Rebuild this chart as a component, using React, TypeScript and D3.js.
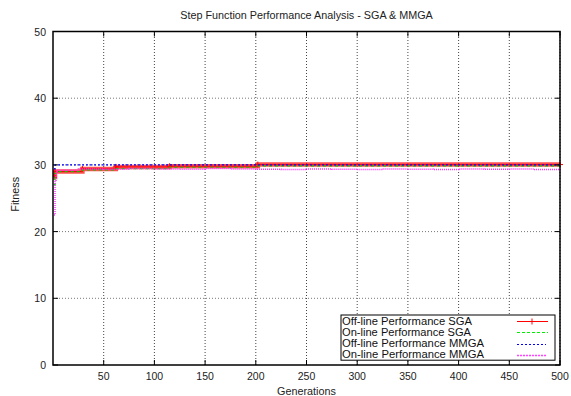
import React from "react";
import * as d3 from "d3";

// step points (generation where the value changes)
const sgaOfflineGen = [1, 2, 29, 62, 115, 202, 500];
const sgaOfflineFit = [28.2, 29.0, 29.4, 29.7, 29.8, 30.05, 30.05];

const sgaOnlineGen = [1, 2, 3, 29, 62, 115, 202, 500];
const sgaOnlineFit = [27.0, 28.7, 29.0, 29.25, 29.45, 29.65, 29.85, 29.85];

const mmgaOfflineGen = [1, 2, 500];
const mmgaOfflineFit = [29.4, 30.0, 30.0];

const mmgaOnlineGen = [1, 2, 3, 4, 25, 50, 75, 100, 125, 150, 175, 200, 225, 250, 275, 300, 325, 350, 375, 400, 425, 450, 475, 500];
const mmgaOnlineFit = [22.5, 27.5, 28.8, 29.2, 29.4, 29.35, 29.45, 29.4, 29.35, 29.45, 29.4, 29.35, 29.3, 29.4, 29.35, 29.3, 29.4, 29.35, 29.3, 29.4, 29.35, 29.4, 29.3, 29.35];

const xTicks = [50, 100, 150, 200, 250, 300, 350, 400, 450, 500];
const yTicks = [0, 10, 20, 30, 40, 50];

const legendLabels = [
  "Off-line Performance SGA",
  "On-line Performance SGA",
  "Off-line Performance MMGA",
  "On-line Performance MMGA",
];
const legendWidths = [130, 129, 142, 142];

const W = 571;
const H = 396;
const m = { left: 53, right: 11, top: 31.5, bottom: 31 };
const font = "'Liberation Sans', Arial, Helvetica, sans-serif";

const App = () => {
  const x = d3.scaleLinear().domain([0, 500]).range([m.left, W - m.right]);
  const y = d3.scaleLinear().domain([0, 50]).range([H - m.bottom, m.top]);

  const line = d3
    .line<[number, number]>()
    .x((d) => x(d[0]))
    .y((d) => y(d[1]))
    .curve(d3.curveStepAfter);

  const zip = (g: number[], f: number[]) => g.map((v, i) => [v, f[i]] as [number, number]);
  const sgaOff = zip(sgaOfflineGen, sgaOfflineFit);
  const sgaOn = zip(sgaOnlineGen, sgaOnlineFit);
  const mmgaOff = zip(mmgaOfflineGen, mmgaOfflineFit);
  const mmgaOn = zip(mmgaOnlineGen, mmgaOnlineFit);

  const x0 = m.left;
  const x1 = W - m.right;
  const y0 = H - m.bottom;
  const y1 = m.top;

  const legX = 341;
  const legY = 315;
  const rowH = 11.3;

  const plus = (cx: number, cy: number, k: string | number) => (
    <g key={k} stroke="#ff0000" strokeWidth={1}>
      <line x1={cx - 3} x2={cx + 3} y1={cy} y2={cy} />
      <line x1={cx} x2={cx} y1={cy - 3} y2={cy + 3} />
    </g>
  );

  return (
    <svg
      width={W}
      height={H}
      style={{ position: "absolute", left: 0, top: 0, background: "#fff" }}
      fontFamily={font}
    >
      <defs>
        <clipPath id="plot">
          <rect x={x0} y={y1} width={x1 - x0 + 4} height={y0 - y1} />
        </clipPath>
      </defs>

      {/* grid */}
      {xTicks.map((t) => (
        <line key={"gx" + t} x1={x(t)} x2={x(t)} y1={y0} y2={y1} stroke="#444" strokeWidth={1} strokeDasharray="1,2" />
      ))}
      {yTicks.slice(1, -1).map((t) => (
        <line key={"gy" + t} x1={x0} x2={x1} y1={y(t)} y2={y(t)} stroke="#777" strokeWidth={1} strokeDasharray="1,2" />
      ))}

      {/* series */}
      <g clipPath="url(#plot)" fill="none">
        <path d={line(sgaOff) || ""} stroke="#ff2222" strokeWidth={4.5} opacity={0.8} />
        <path d={line(sgaOff) || ""} stroke="#ff0000" strokeWidth={1} />
        {sgaOff.map((d, i) => plus(x(d[0]), y(d[1]), "p" + i))}
        <path d={line(sgaOn) || ""} stroke="#00cc00" strokeWidth={1.2} strokeDasharray="3,3" />
        <path d={line(mmgaOff) || ""} stroke="#0000ff" strokeWidth={1.2} strokeDasharray="2,2" />
        <path d={line(mmgaOn) || ""} stroke="#ff33ff" strokeWidth={1.5} strokeDasharray="1,1" />
      </g>

      {/* border */}
      <rect x={x0} y={y1} width={x1 - x0} height={y0 - y1} fill="none" stroke="#000" strokeWidth={1.5} />

      {/* ticks */}
      {xTicks.map((t) => (
        <g key={"tx" + t}>
          <line x1={x(t)} x2={x(t)} y1={y0} y2={y0 - 5} stroke="#000" />
          <line x1={x(t)} x2={x(t)} y1={y1} y2={y1 + 5} stroke="#000" />
          <text x={x(t)} y={y0 + 15} textAnchor="middle" fontSize={10.5} fill="#222">
            {t}
          </text>
        </g>
      ))}
      {yTicks.map((t) => (
        <g key={"ty" + t}>
          <line x1={x0} x2={x0 + 5} y1={y(t)} y2={y(t)} stroke="#000" />
          <line x1={x1} x2={x1 - 5} y1={y(t)} y2={y(t)} stroke="#000" />
          <text x={x0 - 7} y={y(t) + 4} textAnchor="end" fontSize={10.5} fill="#222">
            {t}
          </text>
        </g>
      ))}

      {/* titles */}
      <text x={(x0 + x1) / 2} y={19} textAnchor="middle" fontSize={10.8} fill="#222">
        Step Function Performance Analysis - SGA &amp; MMGA
      </text>
      <text x={(x0 + x1) / 2} y={395} textAnchor="middle" fontSize={10.8} fill="#222">
        Generations
      </text>
      <text transform={`translate(18.5,${(y0 + y1) / 2 - 4}) rotate(-90)`} textAnchor="middle" fontSize={10.8} fill="#222">
        Fitness
      </text>

      {/* legend */}
      <rect x={legX} y={legY} width={214} height={rowH * 4} fill="#fff" stroke="#000" strokeWidth={1} />
      {legendLabels.map((lab, i) => {
        const cy = Math.round(legY + rowH * i + 6) + 0.5;
        return (
          <g key={lab}>
            <text
              x={legX + 1}
              y={legY + rowH * (i + 1) - 1.8}
              fontSize={10}
              fill="#111"
              textLength={legendWidths[i]}
              lengthAdjust="spacingAndGlyphs"
            >
              {lab}
            </text>
            {i === 0 && (
              <g>
                <line x1={517} x2={548} y1={cy} y2={cy} stroke="#ff0000" strokeWidth={1} />
                {plus(532, cy, "lp")}
              </g>
            )}
            {i === 1 && <line x1={517} x2={548} y1={cy} y2={cy} stroke="#00ee00" strokeWidth={1} strokeDasharray="3,2" />}
            {i === 2 && <line x1={517} x2={546} y1={cy} y2={cy} stroke="#0000ff" strokeWidth={1} strokeDasharray="2,2" />}
            {i === 3 && <line x1={517} x2={546} y1={cy} y2={cy} stroke="#ff44ff" strokeWidth={1.5} strokeDasharray="2,1" />}
          </g>
        );
      })}
    </svg>
  );
};

export default App;
